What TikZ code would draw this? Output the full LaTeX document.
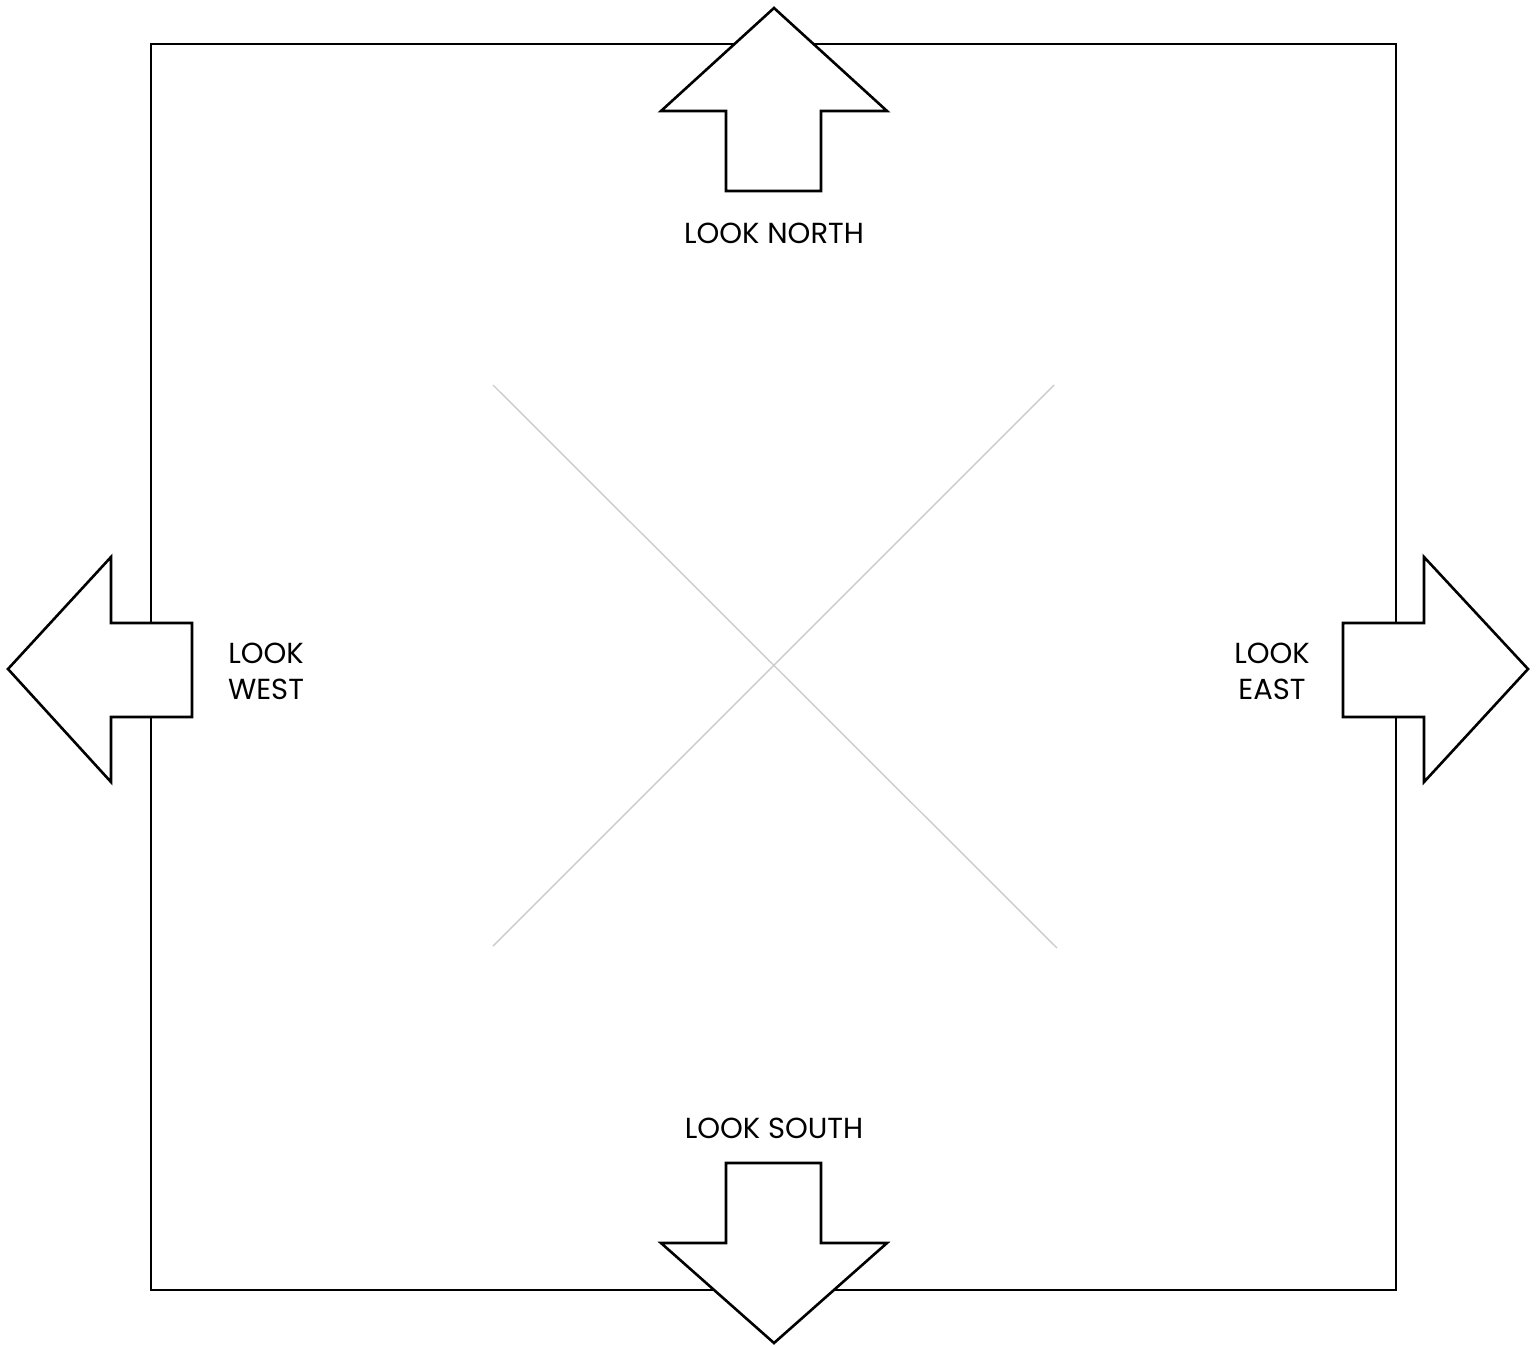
\documentclass[tikz,border=0pt]{standalone}
\usepackage{fontspec}
\setmainfont{Poppins}
\begin{document}
\begin{tikzpicture}[x=1pt,y=-1pt,
  frame/.style={draw=black,line width=2.6pt},
  bigarrow/.style={draw=black,fill=white,line width=2.6pt,line join=miter},
  diag/.style={draw=black!20,line width=1.4pt},
  lbl/.style={font=\fontsize{29}{36}\selectfont,align=center,inner sep=0pt}]
\useasboundingbox (0,0) rectangle (1538,1345);
\fill[white] (0,0) rectangle (1538,1345);
% diagonals
\coordinate (d1a) at (493,385);
\coordinate (d1b) at (1057,948);
\coordinate (d2a) at (1054,385);
\coordinate (d2b) at (493,946);
\draw[diag] (d1a) -- (d1b);
\draw[diag] (d2a) -- (d2b);
% frame
\draw[frame] (151,44) rectangle (1396,1290);
% north arrow
\draw[bigarrow] (774,8) -- (887,111) -- (821,111) -- (821,191) -- (726,191) -- (726,111) -- (661,111) -- cycle;
% south arrow
\draw[bigarrow] (774,1343) -- (887,1243) -- (821,1243) -- (821,1163) -- (726,1163) -- (726,1243) -- (661,1243) -- cycle;
% west arrow
\draw[bigarrow] (8,669) -- (111,557) -- (111,623) -- (192,623) -- (192,717) -- (111,717) -- (111,782) -- cycle;
% east arrow
\draw[bigarrow] (1528,669) -- (1424,557) -- (1424,623) -- (1343,623) -- (1343,717) -- (1424,717) -- (1424,782) -- cycle;
% labels
\node[lbl] (north) at (774,233) {LOOK NORTH};
\node[lbl] (south) at (774,1128) {LOOK SOUTH};
\node[lbl] (west) at (266,671) {LOOK\\WEST};
\node[lbl] (east) at (1272,671) {LOOK\\EAST};
\end{tikzpicture}
\end{document}
